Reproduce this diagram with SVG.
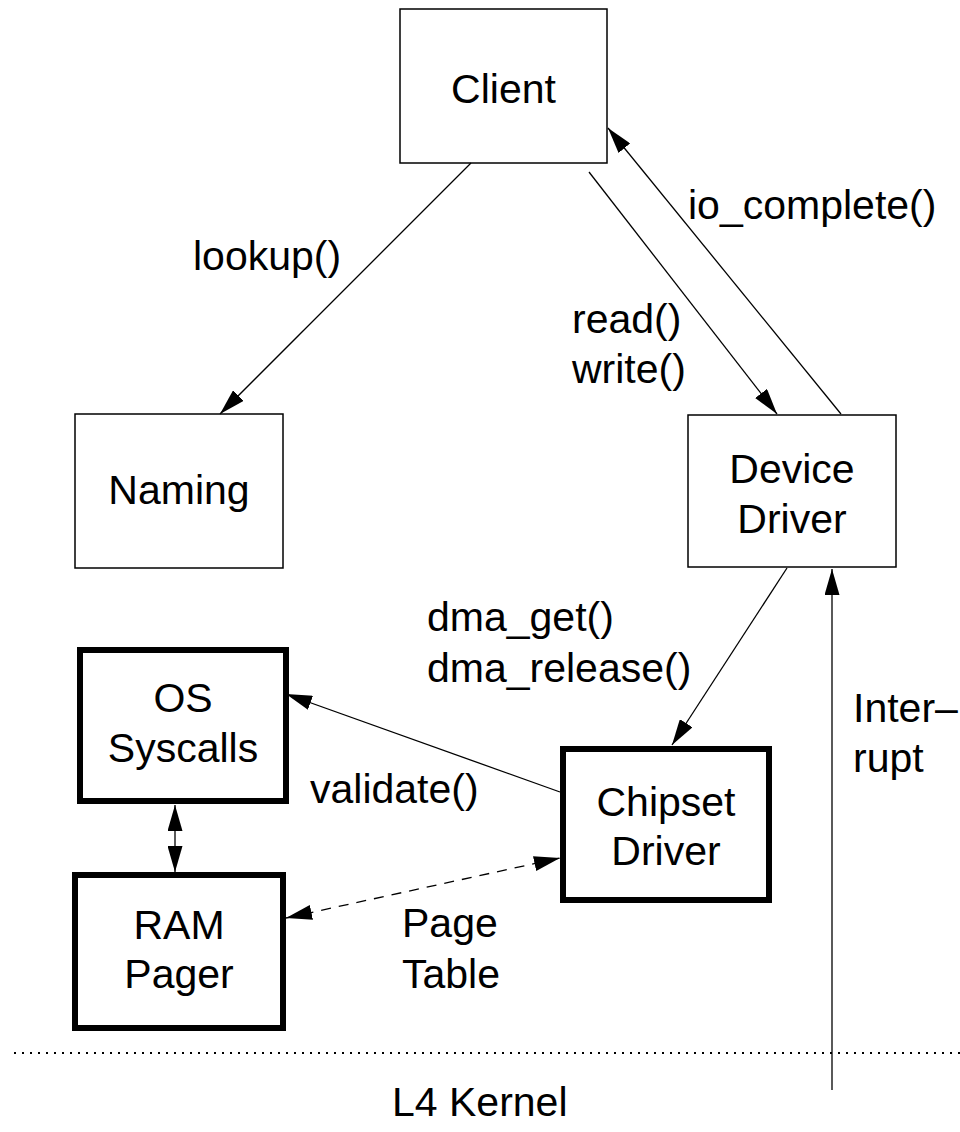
<svg xmlns="http://www.w3.org/2000/svg" width="960" height="1132" viewBox="0 0 960 1132">
  <style>
    text { font-family: "Liberation Sans", Arial, Helvetica, sans-serif; font-size: 41px; fill: #000; }
    .c { text-anchor: middle; }
    .box { fill: #fff; stroke: #000; stroke-width: 1.5; }
    .thick { fill: #fff; stroke: #000; stroke-width: 6; }
    .edge { fill: none; stroke: #000; stroke-width: 1.3; }
    .dash { stroke-dasharray: 10 8; }
    .dots { fill: none; stroke: #000; stroke-width: 2; stroke-dasharray: 2 6; }
  </style>
  <defs>
    <marker id="head" viewBox="0 0 26 15" refX="26" refY="7.5" markerWidth="26" markerHeight="15" markerUnits="userSpaceOnUse" orient="auto-start-reverse">
      <path d="M0,0 L26,7.5 L0,15 z" fill="#000"/>
    </marker>
  </defs>
  <rect width="960" height="1132" fill="#fff"/>

  <!-- user-level servers -->
  <g id="client">
    <rect class="box" x="400" y="9" width="207" height="154"/>
    <text class="c" x="503.5" y="103">Client</text>
  </g>
  <g id="naming">
    <rect class="box" x="75" y="414" width="208" height="154"/>
    <text class="c" x="179" y="504">Naming</text>
  </g>
  <g id="device-driver">
    <rect class="box" x="688" y="415" width="208" height="152"/>
    <text class="c" x="792" y="483">Device</text>
    <text class="c" x="792" y="533">Driver</text>
  </g>

  <!-- trusted components (heavy outline) -->
  <g id="os-syscalls">
    <rect class="thick" x="80" y="650" width="206" height="151"/>
    <text class="c" x="183" y="712">OS</text>
    <text class="c" x="183" y="762">Syscalls</text>
  </g>
  <g id="ram-pager">
    <rect class="thick" x="75" y="875" width="208" height="153"/>
    <text class="c" x="179" y="939">RAM</text>
    <text class="c" x="179" y="988">Pager</text>
  </g>
  <g id="chipset-driver">
    <rect class="thick" x="563" y="749" width="206" height="151"/>
    <text class="c" x="666" y="816">Chipset</text>
    <text class="c" x="666" y="865">Driver</text>
  </g>

  <!-- kernel boundary -->
  <g id="kernel">
    <line class="dots" x1="14" y1="1053" x2="960" y2="1053"/>
    <text x="392" y="1116">L4 Kernel</text>
  </g>

  <!-- calls between components -->
  <g id="connectors">
    <line class="edge" x1="471" y1="163" x2="220" y2="414" marker-end="url(#head)"/>
    <line class="edge" x1="589" y1="172" x2="777" y2="414" marker-end="url(#head)"/>
    <line class="edge" x1="841" y1="414" x2="608" y2="128" marker-end="url(#head)"/>
    <line class="edge" x1="787" y1="568" x2="672" y2="745" marker-end="url(#head)"/>
    <line class="edge" x1="560" y1="792" x2="286" y2="694" marker-end="url(#head)"/>
    <line class="edge" x1="175" y1="805" x2="175" y2="872" marker-start="url(#head)" marker-end="url(#head)"/>
    <line class="edge dash" x1="286" y1="918" x2="560" y2="858" marker-start="url(#head)" marker-end="url(#head)"/>
    <line class="edge" x1="832" y1="1090" x2="832" y2="569" marker-end="url(#head)"/>

    <text x="193" y="270">lookup()</text>
    <text x="572" y="333">read()</text>
    <text x="572" y="383">write()</text>
    <text x="688" y="219">io_complete()</text>
    <text x="427" y="631">dma_get()</text>
    <text x="427" y="682">dma_release()</text>
    <text x="310" y="803">validate()</text>
    <text x="402" y="937">Page</text>
    <text x="402" y="988">Table</text>
    <text x="853" y="722">Inter–</text>
    <text x="853" y="772">rupt</text>
  </g>
</svg>
